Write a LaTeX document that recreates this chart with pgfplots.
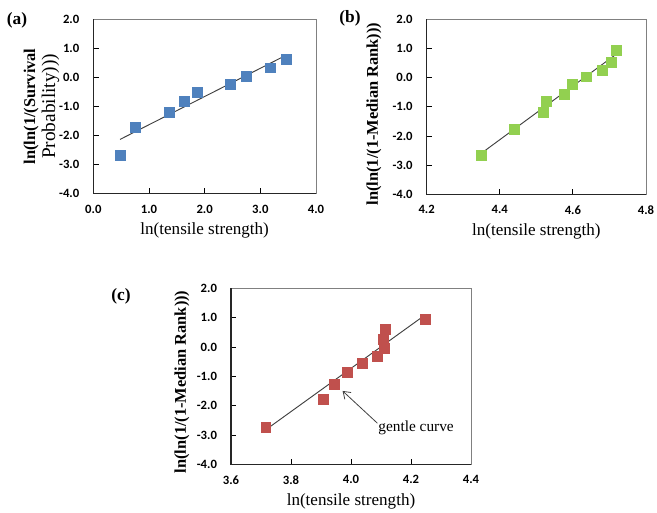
\documentclass[border=0pt]{standalone}
\usepackage{fontspec}
\setmainfont{Liberation Serif}
\newfontfamily\tickfont{Carlito}
\usepackage{pgfplots}
\pgfplotsset{compat=1.18}
\usetikzlibrary{arrows.meta}

\definecolor{serA}{HTML}{4F81BD}
\definecolor{serB}{HTML}{92D050}
\definecolor{serC}{HTML}{C0504D}

\pgfplotsset{
  panel/.style={
    scale only axis,
    axis line style={black!50, line width=0.5pt},
    tick style={black, line width=0.6pt},
    major tick length=4pt,
    tick align=inside,
    xtick pos=bottom, ytick pos=left,
    ymin=-4, ymax=2, ytick={-4,-3,-2,-1,0,1,2},
    yticklabels={-4.0,-3.0,-2.0,-1.0,0.0,1.0,2.0},
    ticklabel style={font=\tickfont\bfseries\fontsize{9.5}{10}\selectfont},
    yticklabel style={xshift=-7pt},
    xticklabel style={yshift=-5pt},
    xlabel={ln(tensile strength)},
    xlabel style={font=\fontsize{12.8}{14}\selectfont, at={(axis description cs:0.5,-0.215)}, anchor=center},
    ylabel style={font=\bfseries\fontsize{12.3}{14}\selectfont, anchor=center, align=center},
    clip=false,
  },
  pts/.style={only marks, mark=square*, mark size=3.7pt, mark options={draw=#1, fill=#1}},
  fit/.style={no marks, black!75, line width=0.7pt},
}

\newcommand{\frontaxes}{\draw[black!85, line width=0.8pt] (rel axis cs:0,1) -- (rel axis cs:0,0) -- (rel axis cs:1,0);}

\begin{document}
\begin{tikzpicture}
\path[use as bounding box] (0,0) rectangle (492.75pt,384pt);

% (a)
\begin{axis}[panel,
  at={(70pt,239pt)}, anchor=south west,
  width=167pt, height=130.5pt,
  xmin=0, xmax=4, xtick={0,1,2,3,4},
  xticklabels={0.0,1.0,2.0,3.0,4.0},
  ylabel={ln(ln(1/(Survival\\[1pt]{\mdseries\fontsize{14.5}{15}\selectfont Probability)))}},
  ylabel style={at={(axis description cs:-0.233,0.5)}},
]
\addplot[pts=serA] coordinates {
  (0.49,-2.68) (0.75,-1.72) (1.365,-1.19) (1.63,-0.84) (1.87,-0.50)
  (2.46,-0.23) (2.755,0.04) (3.175,0.33) (3.46,0.62)};
\addplot[fit] coordinates {(0.48,-2.14) (3.44,0.74)};
\frontaxes
\end{axis}

% (b)
\begin{axis}[panel,
  at={(320pt,238.3pt)}, anchor=south west,
  width=164.5pt, height=131.25pt,
  xmin=4.2, xmax=4.8, xtick={4.2,4.4,4.6,4.8},
  xticklabels={4.2,4.4,4.6,4.8},
  ylabel={ln(ln(1/(1-Median Rank)))},
  ylabel style={at={(axis description cs:-0.240,0.459)}},
  xlabel style={at={(axis description cs:0.5,-0.214)}},
]
\addplot[pts=serB] coordinates {
  (4.350,-2.65) (4.440,-1.76) (4.519,-1.20) (4.526,-0.81) (4.576,-0.56)
  (4.598,-0.22) (4.636,0.03) (4.681,0.26) (4.706,0.53) (4.718,0.95)};
\addplot[fit] coordinates {(4.35,-2.59) (4.715,0.77)};
\frontaxes
\end{axis}

% (c)
\begin{axis}[panel,
  at={(173.25pt,35.8pt)}, anchor=south west,
  width=180pt, height=132pt,
  xmin=3.6, xmax=4.4, xtick={3.6,3.8,4.0,4.2,4.4},
  xticklabels={3.6,3.8,4.0,4.2,4.4},
  ylabel={ln(ln(1/(1-Median Rank)))},
  ylabel style={at={(axis description cs:-0.204,0.468)}},
  xlabel style={at={(axis description cs:0.5,-0.209)}},
]
\addplot[pts=serC] coordinates {
  (3.716,-2.75) (3.909,-1.78) (3.943,-1.26) (3.987,-0.85) (4.037,-0.55)
  (4.087,-0.31) (4.110,-0.04) (4.107,0.27) (4.113,0.61) (4.247,0.94)};
\addplot[fit] coordinates {(3.711,-2.86) (4.247,1.09)};
\draw[black!75, line width=0.6pt, -{Straight Barb[length=5pt,width=7pt]}]
  (axis cs:4.088,-2.60) -- (axis cs:3.972,-1.50);
\node[font=\fontsize{11.5}{13}\selectfont] at (axis cs:4.217,-2.76) {gentle curve};
\frontaxes
\end{axis}

\node[font=\bfseries\fontsize{13}{14}\selectfont] at (12.75pt,369pt) {(a)};
\node[font=\bfseries\fontsize{13}{14}\selectfont] at (262.5pt,370.5pt) {(b)};
\node[font=\bfseries\fontsize{13}{14}\selectfont] at (90.75pt,162pt) {(c)};
\end{tikzpicture}
\end{document}
